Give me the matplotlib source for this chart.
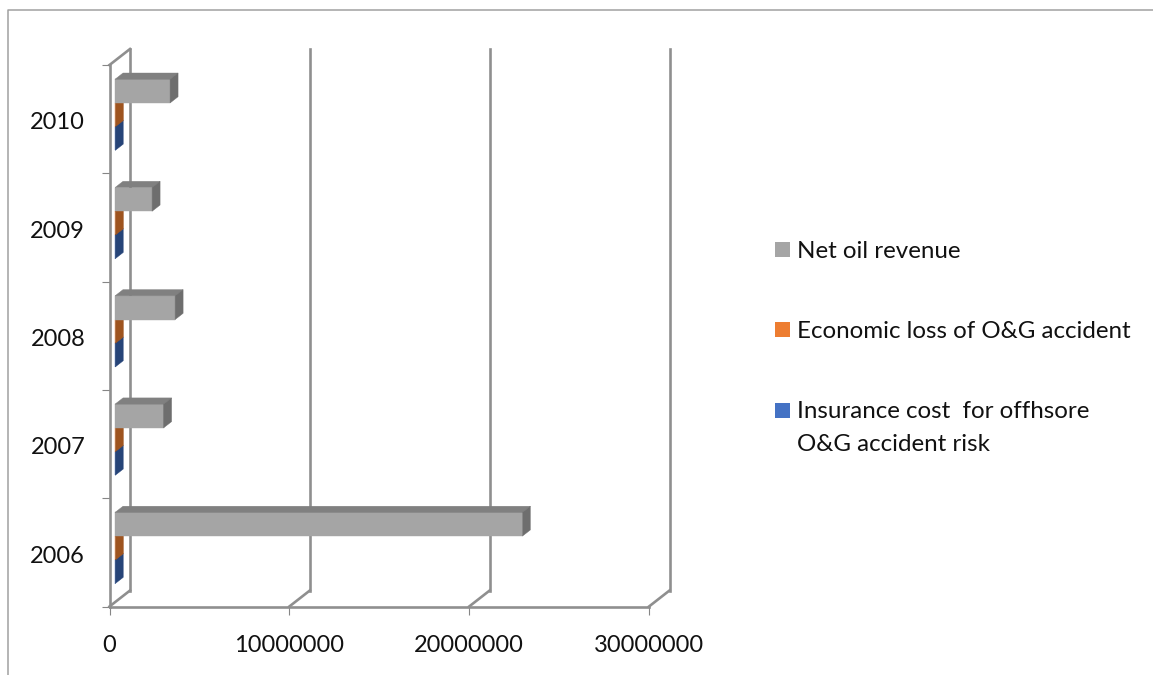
import matplotlib
matplotlib.use('Agg')
import matplotlib.pyplot as plt
from matplotlib.patches import Polygon, Rectangle
from matplotlib.lines import Line2D
from matplotlib.transforms import Affine2D

plt.rcParams['font.family'] = ['Lato', 'DejaVu Sans']

years = ['2006', '2007', '2008', '2009', '2010']
insurance_cost = [10000, 10000, 10000, 10000, 10000]
economic_loss = [20000, 20000, 20000, 20000, 20000]
net_revenue = [22650000, 2700000, 3340000, 2060000, 3060000]
x_ticks = [0, 10000000, 20000000, 30000000]

W, H = 1153, 675
fig = plt.figure(figsize=(W / 100, H / 100), dpi=100)
ax = fig.add_axes([109.5 / W, 1 - 606.5 / H, 539.5 / W, 541.5 / H])
ax.set_xlim(0, 30000000)
ax.set_ylim(0, 5)
ax.patch.set_alpha(0)

# oblique projection: one unit of depth moves this far right and up
DEPTH_X = 20.5 * 30000000 / 539.5
DEPTH_Y = 16 * 5 / 541.5
BAR_FRONT, BAR_BACK = 0.27, 0.66
BAR_H = 0.219
WALL = '#8f8f8f'


def proj(v, y, d):
    return (v + d * DEPTH_X, y + d * DEPTH_Y)


def wall_line(p, q):
    ax.plot([p[0], q[0]], [p[1], q[1]], color=WALL, lw=1.9,
            solid_capstyle='projecting', clip_on=False, zorder=1)


# back wall gridlines and floor edges
for v in x_ticks:
    wall_line(proj(v, 0, 0), proj(v, 0, 1))
    wall_line(proj(v, 0, 1), proj(v, 5, 1))
wall_line(proj(0, 5, 0), proj(0, 5, 1))


def bar3d(v, y, front, top, side, z):
    corners = [
        ([proj(0, y, BAR_FRONT), proj(v, y, BAR_FRONT),
          proj(v, y + BAR_H, BAR_FRONT), proj(0, y + BAR_H, BAR_FRONT)], front),
        ([proj(0, y + BAR_H, BAR_FRONT), proj(v, y + BAR_H, BAR_FRONT),
          proj(v, y + BAR_H, BAR_BACK), proj(0, y + BAR_H, BAR_BACK)], top),
        ([proj(v, y, BAR_FRONT), proj(v, y, BAR_BACK),
          proj(v, y + BAR_H, BAR_BACK), proj(v, y + BAR_H, BAR_FRONT)], side),
    ]
    for pts, c in corners:
        ax.add_patch(Polygon(pts, closed=True, facecolor=c, edgecolor=c,
                             lw=0.3, clip_on=False, zorder=z))


series = [
    (insurance_cost, '#4472c4', '#2f5597', '#264478'),
    (economic_loss, '#ed7d31', '#c55a11', '#9e541f'),
    (net_revenue, '#a5a5a5', '#808080', '#6e6e6e'),
]
for i in range(len(years)):
    y0 = i + 0.5 - 1.5 * BAR_H
    for k, (vals, front, top, side) in enumerate(series):
        bar3d(vals[i], y0 + k * BAR_H, front, top, side, 2 + k)

for s in ['top', 'right']:
    ax.spines[s].set_visible(False)
for s in ['left', 'bottom']:
    ax.spines[s].set_color(WALL)
    ax.spines[s].set_linewidth(1.9)

ax.set_xticks(x_ticks, [str(v) for v in x_ticks])
ax.set_yticks(range(6), [''] * 6)
ax.set_yticks([i + 0.483 for i in range(5)], years, minor=True)
ax.tick_params(axis='both', which='major', length=5.5, width=0.8, color='#868686')
ax.tick_params(axis='x', which='major', labelsize=17, pad=15, labelcolor='#111111')
ax.tick_params(axis='y', which='minor', length=0, labelsize=17, pad=17.5, labelcolor='#111111')

# figure overlay in pixel coordinates for the frame and the legend
px = Affine2D().scale(1 / W, -1 / H).translate(0, 1) + fig.transFigure
fig.add_artist(Line2D([8, 8, W], [H, 9.5, 9.5], transform=px, color='#a0a0a0', lw=1.1))

legend_rows = [
    (251, '#a5a5a5', 'Net oil revenue'),
    (331, '#ed7d31', 'Economic loss of O&G accident'),
    (412, '#4472c4', 'Insurance cost  for offhsore\nO&G accident risk'),
]
MARKER_OFFSET = 1.5
for yc, color, label in legend_rows:
    fig.add_artist(Rectangle((775, yc - MARKER_OFFSET - 7.5), 15, 15, transform=px,
                             facecolor=color, edgecolor='none'))
    two_lines = '\n' in label
    fig.text(797, yc - 10.5 if two_lines else yc, label, transform=px, fontsize=17.4,
             color='#111111', va='top' if two_lines else 'center', ha='left',
             linespacing=1.68)

fig.savefig('out.png', dpi=100)
